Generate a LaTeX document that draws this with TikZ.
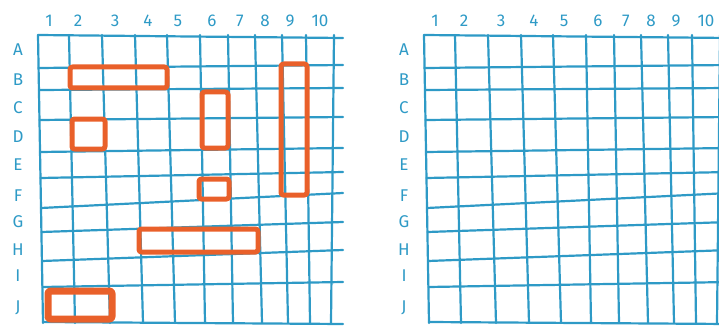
\documentclass[tikz,border=0pt]{standalone}
\usepackage{fontspec}
\setmainfont{Fira Sans}
\usetikzlibrary{positioning,calc}
\definecolor{gridblue}{HTML}{2E9AC6}
\definecolor{shiporange}{HTML}{E9602A}
\tikzset{
  every node/.style={font=\fontsize{17}{20}\selectfont, text=gridblue},
  gridline/.style={draw=gridblue, line width=2.2pt, line cap=round, line join=round},
  ship/.style={draw=shiporange, line width=5pt, rounded corners=2.5pt, line join=round},
  bigship/.style={ship, line width=7pt},
  collabel/.style={anchor=base, inner sep=0pt},
  rowlabel/.style={anchor=center, inner sep=0pt},
}
\newcommand{\battlegrid}[2]{% #1 name, #2 x shift
  % vertical lines: top x / bottom x
  \foreach \t/\b in {38/43,69/75,102/110,135/143,167/175,200/205,228/233,255/262,282/288,306/310,334/331} {
    \draw[gridline] ({\t+#2},35) -- ({\b+#2},323);
  }
  % horizontal lines: left y / right y
  \foreach \l/\r in {35/38,68/65,90/88,120/117,152/148,178/172,208/193,232/222,261/250,287/282,322/324} {
    \draw[gridline] ({38+5*(\l-35)/287+#2},\l) -- ({343+#2},\r);
  }
  % column numbers
  \foreach \n/\x in {1/49,2/78,3/115,4/148,5/178,6/212,7/240,8/265,9/290,10/320} {
    \node[collabel] (#1c\n) at ({\x+#2},27) {\n};
  }
  % row letters
  \foreach \r/\y in {A/50,B/80,C/108,D/137,E/165,F/196,G/222,H/250,I/276,J/308} {
    \node[rowlabel] (#1r\r) at ({18+#2},\y) {\r};
  }
}
\begin{document}
\begin{tikzpicture}[x=1pt, y=-1pt]
  \useasboundingbox (0,0) rectangle (719,326);
  \clip (0,0) rectangle (719,326);

  \battlegrid{own}{0}
  \battlegrid{enemy}{386}

  % ships on the own board
  \draw[ship] (70,67) rectangle (167,88);
  \draw[ship] (72,119) rectangle (105,149);
  \draw[ship] (202,92) rectangle (228,148);
  \draw[ship] (281,64) rectangle (307,195);
  \draw[ship] (199,179) rectangle (229,199);
  \draw[ship] (139,229) rectangle (258,252);
  \draw[bigship] (48,291) rectangle (112,319);
\end{tikzpicture}
\end{document}
